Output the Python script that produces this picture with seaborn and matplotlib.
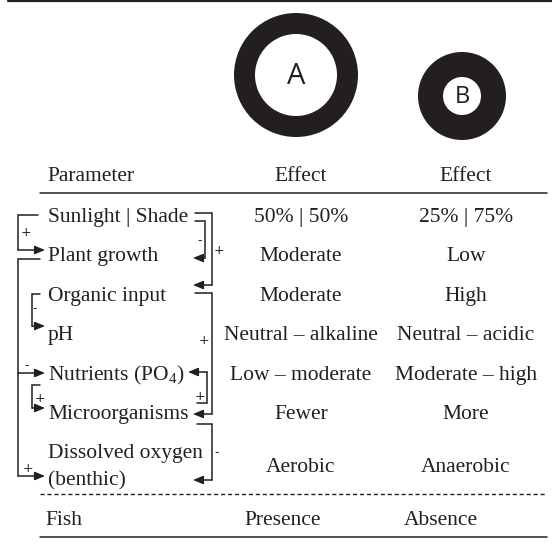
import matplotlib
matplotlib.use("Agg")
import matplotlib.pyplot as plt
import seaborn as sns
from matplotlib.patches import Wedge

sns.set_theme(style="white")
plt.rcParams['font.family'] = ['Liberation Serif', 'DejaVu Sans']
plt.rcParams['mathtext.fontset'] = 'custom'
plt.rcParams['mathtext.rm'] = 'Liberation Serif'

# ---- data ----
header = ["Parameter", "Effect", "Effect"]
parameters = ["Sunlight | Shade", "Plant growth", "Organic input", "pH",
              "Nutrients (PO$\\mathrm{_4}$)", "Microorganisms", "Dissolved oxygen\n(benthic)"]
effect_A = ["50% | 50%", "Moderate", "Moderate", "Neutral \u2013 alkaline",
            "Low \u2013 moderate", "Fewer", "Aerobic"]
effect_B = ["25% | 75%", "Low", "High", "Neutral \u2013 acidic",
            "Moderate \u2013 high", "More", "Anaerobic"]
fish_row = ["Fish", "Presence", "Absence"]
circle_labels = ["A", "B"]
circle_outer = [62, 44]
circle_inner = [41, 19]

C = "#231f20"
fig = plt.figure(figsize=(5.52, 5.52), dpi=100)
ax = fig.add_axes([0, 0, 1, 1])
ax.set_xlim(0, 552)
ax.set_ylim(552, 0)
ax.axis("off")

FS = 15.5
# circles
circ_pos = [(296, 75), (462, 96)]
circ_fs = [21, 17]
for (cx, cy), lab, ro, ri, fs in zip(circ_pos, circle_labels, circle_outer, circle_inner, circ_fs):
    ax.add_patch(Wedge((cx, cy), ro, 0, 360, width=ro - ri, color=C, lw=0))
    ax.text(cx, cy + 1, lab, ha="center", va="center", fontsize=fs, color=C,
            family=["Open Sans", "DejaVu Sans"])

colA, colB = 301, 466
# header
ax.text(47, 181, header[0], fontsize=FS, color=C, va="baseline")
ax.text(colA, 181, header[1], fontsize=FS, color=C, va="baseline", ha="center")
ax.text(colB, 181, header[2], fontsize=FS, color=C, va="baseline", ha="center")

baselines = [222, 261, 301, 340, 380, 419, 458]
for i, (p, a, b) in enumerate(zip(parameters, effect_A, effect_B)):
    y = baselines[i]
    if "\n" in p:
        l1, l2 = p.split("\n")
        ax.text(48, y, l1, fontsize=FS, color=C, va="baseline")
        ax.text(48, y + 27, l2, fontsize=FS, color=C, va="baseline")
        ya = y + 14
    else:
        ax.text(48, y, p, fontsize=FS, color=C, va="baseline")
        ya = y
    ax.text(colA, ya, a, fontsize=FS, color=C, va="baseline", ha="center")
    ax.text(colB, ya, b, fontsize=FS, color=C, va="baseline", ha="center")

ax.text(45, 525, fish_row[0], fontsize=FS, color=C, va="baseline")
ax.text(283, 525, fish_row[1], fontsize=FS, color=C, va="baseline", ha="center")
ax.text(441, 525, fish_row[2], fontsize=FS, color=C, va="baseline", ha="center")

# rules
ax.plot([8, 552], [1, 1], color=C, lw=1.6)
ax.plot([40, 547], [193, 193], color=C, lw=1.1)
ax.plot([40, 547], [494, 494], color=C, lw=1.0, ls=(0, (3, 2)))
ax.plot([40, 547], [537, 537], color=C, lw=1.1)

LW = 1.1
def arrow(x0, x1, y):
    ax.annotate("", xy=(x1, y), xytext=(x0, y),
                arrowprops=dict(arrowstyle="-|>,head_length=0.6,head_width=0.25",
                                color=C, lw=LW, shrinkA=0, shrinkB=0, mutation_scale=10))

def bracket(xs, xv, y0, ys, tip):
    yend = max(ys) if y0 < max(ys) else min(ys)
    ax.plot([xs, xv, xv], [y0, y0, yend], color=C, lw=LW, solid_joinstyle="miter")
    for y in ys:
        arrow(xv, tip, y)

def sign(x, y, s):
    ax.text(x, y, s, fontsize=9, color=C, ha="center", va="center", family="DejaVu Sans")

# left side
bracket(38, 18, 215, [250], 45); sign(26, 233, "+")
bracket(40, 18, 259, [373, 476], 45); sign(27, 366, "-"); sign(28, 469, "+")
bracket(40, 32, 294, [326], 45); sign(35, 309, "-")
bracket(40, 32, 385, [408], 45); sign(40, 399, "+")
# right side
bracket(195, 212, 213, [285], 193); sign(219, 250, "+")
bracket(195, 205, 221, [258], 193); sign(200, 241, "-")
bracket(195, 212, 293, [414], 193); sign(204, 340, "+")
bracket(197, 207, 403, [372], 188); sign(200, 397, "+")
bracket(197, 212, 424, [480], 193); sign(217, 453, "-")

fig.savefig("out.png", dpi=100, facecolor="white")
